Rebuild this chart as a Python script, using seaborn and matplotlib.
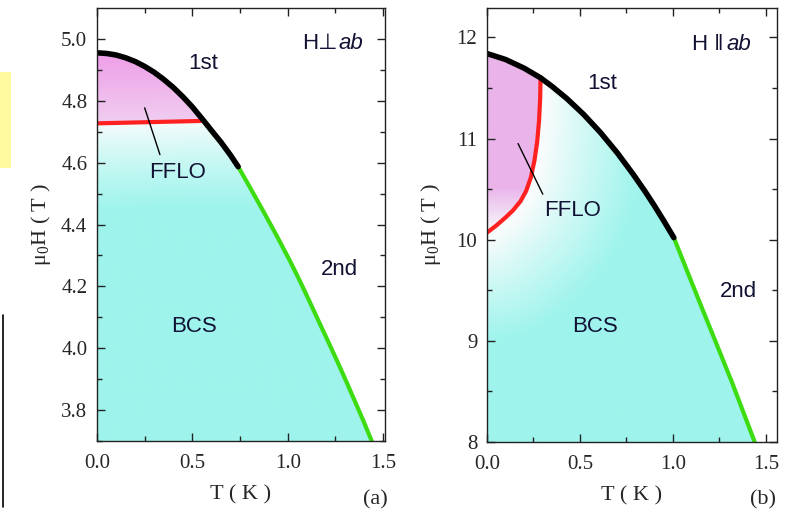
import matplotlib
matplotlib.use('Agg')
import matplotlib.pyplot as plt
import seaborn as sns
import numpy as np
from matplotlib.patches import Polygon, Rectangle
from matplotlib.lines import Line2D

# %% data
# panel (a): H perpendicular ab
Ta_first = [0.0, 0.05, 0.1, 0.15, 0.2, 0.25, 0.3, 0.35, 0.4, 0.45, 0.5, 0.56, 0.6, 0.65, 0.7, 0.74]
Ha_first = [4.955, 4.953, 4.948, 4.939, 4.927, 4.911, 4.892, 4.869, 4.843, 4.813, 4.780, 4.735,
            4.704, 4.666, 4.624, 4.587]
Ta_second = [0.74, 0.8, 0.87, 0.94, 1.01, 1.06, 1.115, 1.16, 1.21, 1.26, 1.31, 1.36, 1.40, 1.44]
Ha_second = [4.587, 4.522, 4.445, 4.366, 4.284, 4.222, 4.150, 4.090, 4.024, 3.957, 3.888, 3.817,
             3.760, 3.70]
Ta_fflo = [0.0, 0.56]
Ha_fflo = [4.727, 4.735]

# panel (b): H parallel ab
Tb_first = [0.0, 0.1, 0.2, 0.288, 0.35, 0.43, 0.52, 0.61, 0.7, 0.785, 0.85, 0.9, 0.95, 1.005]
Hb_first = [11.84, 11.781, 11.695, 11.60, 11.515, 11.394, 11.238, 11.06, 10.86, 10.65, 10.478,
            10.337, 10.189, 10.02]
Tb_second = [1.005, 1.07, 1.145, 1.23, 1.32, 1.44]
Hb_second = [10.02, 9.72, 9.376, 8.99, 8.58, 8.0]
Tb_fflo = [0.0, 0.05, 0.1, 0.14, 0.18, 0.21, 0.235, 0.255, 0.27, 0.28, 0.286, 0.288]
Hb_fflo = [10.07, 10.14, 10.22, 10.29, 10.38, 10.48, 10.61, 10.78, 10.97, 11.18, 11.4, 11.60]

PINK = np.array([238, 158, 232]) / 255
PINK_L = np.array([240, 205, 240]) / 255
PINK_B = np.array([234, 180, 234]) / 255
CYAN = np.array([158, 244, 236]) / 255
WHITE = np.array([248, 252, 252]) / 255

sns.set_style('ticks')
plt.rcParams['mathtext.fontset'] = 'stix'
serif = ['Liberation Serif', 'DejaVu Serif']
sans = ['Liberation Sans', 'DejaVu Sans']
INK = '#111133'

fig = plt.figure(figsize=(7.91, 5.18), dpi=100)
ax_a = fig.add_axes([0.1226, 0.1486, 0.3642, 0.836])
ax_b = fig.add_axes([0.6157, 0.1467, 0.3666, 0.8378])


def shade(ax, T_top, H_top, rgb, xlim, ylim):
    img = ax.imshow(rgb, extent=[xlim[0], xlim[1], ylim[0], ylim[1]], origin='lower',
                    aspect='auto', interpolation='bilinear', zorder=0)
    pts = list(zip(T_top, H_top)) + [(T_top[-1], ylim[0]), (0, ylim[0])]
    poly = Polygon(pts, closed=True, transform=ax.transData)
    img.set_clip_path(poly)


def style(ax, xlim, ylim, yticks, yminor, yfmt, ylpad):
    ax.set_xlim(*xlim)
    ax.set_ylim(*ylim)
    ax.set_xticks([0.0, 0.5, 1.0, 1.5])
    ax.set_xticklabels(['0.0', '0.5', '1.0', '1.5'])
    ax.set_xticks(np.arange(0.25, 1.5, 0.5), minor=True)
    ax.set_yticks(yticks)
    ax.set_yticklabels([yfmt.format(v) for v in yticks])
    ax.set_yticks(yminor, minor=True)
    ax.tick_params(which='both', direction='in', top=True, right=True, color='#222222')
    ax.tick_params(which='major', length=6, width=1.0)
    ax.tick_params(axis='x', which='major', pad=9)
    ax.tick_params(axis='y', which='major', pad=7)
    ax.tick_params(which='minor', length=3.5, width=1.0)
    for lab in ax.get_xticklabels() + ax.get_yticklabels():
        lab.set_family(serif)
        lab.set_fontsize(15)
    for sp in ax.spines.values():
        sp.set_linewidth(1.0)
        sp.set_color('#222222')
    ax.set_xlabel('T ( K )', family=serif, fontsize=16, labelpad=9)
    ax.set_ylabel(r'$\mathregular{\mu_0}$H ( T )', family=serif, fontsize=16, labelpad=ylpad)


# %% panel (a)
xa, ya = (0, 1.51), (3.7, 5.1)
T_all = Ta_first + Ta_second[1:]
H_all = Ha_first + Ha_second[1:]
gy = np.linspace(ya[0], ya[1], 400)
gx = np.linspace(xa[0], xa[1], 400)
GX, GY = np.meshgrid(gx, gy)
h_red = np.interp(GX, Ta_fflo, Ha_fflo)
t_up = np.clip((GY - h_red) / (Ha_first[0] - h_red), 0, 1)[..., None]
t_dn = np.clip((h_red - GY) / 0.28, 0, 1)[..., None] ** 0.85
rgb = np.where(GY[..., None] > h_red[..., None],
               PINK_L * (1 - t_up) + PINK * t_up,
               WHITE * (1 - t_dn) + CYAN * t_dn)
shade(ax_a, T_all, H_all, rgb, xa, ya)

sns.lineplot(x=Ta_second, y=Ha_second, ax=ax_a, color='#3ddc10', lw=3, sort=False, estimator=None)
sns.lineplot(x=Ta_fflo, y=Ha_fflo, ax=ax_a, color='#ff2020', lw=3, sort=False, estimator=None)
sns.lineplot(x=Ta_first, y=Ha_first, ax=ax_a, color='black', lw=4, sort=False, estimator=None)
ax_a.plot([0.25, 0.33], [4.777, 4.626], color='black', lw=1)
style(ax_a, xa, ya, [3.8, 4.0, 4.2, 4.4, 4.6, 4.8, 5.0], np.arange(3.7, 5.1, 0.1), '{:.1f}', 6)

ax_a.text(0.555, 4.92, '1st', family=sans, fontsize=16, ha='center', va='center', color=INK)
ax_a.text(0.42, 4.568, 'FFLO', family=sans, fontsize=16, ha='center', va='center', color=INK)
ax_a.text(1.27, 4.255, '2nd', family=sans, fontsize=16, ha='center', va='center', color=INK)
ax_a.text(0.51, 4.07, 'BCS', family=sans, fontsize=16, ha='center', va='center', color=INK)
ax_a.text(0.835, 0.918, 'H\u22a5', family=sans, fontsize=16, ha='right', va='center',
          transform=ax_a.transAxes, color=INK)
ax_a.text(0.84, 0.918, 'ab', family=sans, style='italic', fontsize=16, ha='left', va='center',
          transform=ax_a.transAxes, color=INK)

# %% panel (b)
xb, yb = (0, 1.56), (8.0, 12.29)
T_all = Tb_first + Tb_second[1:]
H_all = Hb_first + Hb_second[1:]
gx = np.linspace(xb[0], xb[1], 400)
gy = np.linspace(yb[0], yb[1], 400)
GX, GY = np.meshgrid(gx, gy)
# red boundary as T(H), left of it is FFLO
t_red = np.interp(GY, Hb_fflo, Tb_fflo, left=-1, right=Tb_fflo[-1])
inside = (GX < t_red) & (GY > Hb_fflo[0])
# distance (in pixels) to the red curve
ht = np.linspace(Hb_fflo[0], Hb_fflo[-1], 200)
tt = np.interp(ht, Hb_fflo, Tb_fflo)
px, py = 186.0, 101.0
d = np.full(GX.shape, np.inf)
for t0, h0 in zip(tt, ht):
    d = np.minimum(d, np.hypot((GX - t0) * px, (GY - h0) * py))
d = np.minimum(d, np.where(GY < Hb_fflo[0], np.hypot(GX * px, (GY - Hb_fflo[0]) * py), np.inf))
s = np.clip((d - 8) / 100, 0, 1)[..., None] ** 0.9
p = np.clip((GY - Hb_fflo[0]) / 0.45, 0, 1)[..., None]
rgb = np.where(inside[..., None], WHITE * (1 - p) + PINK_B * p, WHITE * (1 - s) + CYAN * s)
shade(ax_b, T_all, H_all, rgb, xb, yb)

sns.lineplot(x=Tb_second, y=Hb_second, ax=ax_b, color='#3ddc10', lw=3, sort=False, estimator=None)
sns.lineplot(x=Tb_fflo, y=Hb_fflo, ax=ax_b, color='#ff2020', lw=3, sort=False, estimator=None)
sns.lineplot(x=Tb_first, y=Hb_first, ax=ax_b, color='black', lw=4, sort=False, estimator=None)
ax_b.plot([0.167, 0.30], [10.95, 10.45], color='black', lw=1)
style(ax_b, xb, yb, [8, 9, 10, 11, 12], np.arange(8.5, 12.3, 1.0), '{:d}', 10)

ax_b.text(0.62, 11.54, '1st', family=sans, fontsize=16, ha='center', va='center', color=INK)
ax_b.text(0.46, 10.29, 'FFLO', family=sans, fontsize=16, ha='center', va='center', color=INK)
ax_b.text(1.35, 9.49, '2nd', family=sans, fontsize=16, ha='center', va='center', color=INK)
ax_b.text(0.58, 9.14, 'BCS', family=sans, fontsize=16, ha='center', va='center', color=INK)
ax_b.text(0.815, 0.915, 'H \u2016', family=sans, fontsize=16, ha='right', va='center',
          transform=ax_b.transAxes, color=INK)
ax_b.text(0.825, 0.915, 'ab', family=sans, style='italic', fontsize=16, ha='left', va='center',
          transform=ax_b.transAxes, color=INK)

fig.text(375 / 791, 1 - 500 / 518, '(a)', family=serif, fontsize=16, ha='center', va='center')
fig.text(763 / 791, 1 - 500 / 518, '(b)', family=serif, fontsize=16, ha='center', va='center')

# stray bits at the left edge of the source image
fig.patches.append(Rectangle((0, 1 - 168 / 518), 11 / 791, 96 / 518, transform=fig.transFigure,
                             facecolor='#fffaa0', edgecolor='none'))
fig.lines.append(Line2D([3 / 791, 3 / 791], [1 - 315 / 518, 1 - 507 / 518], transform=fig.transFigure,
                        color='black', lw=1.2))

fig.savefig('out.png', dpi=100)
